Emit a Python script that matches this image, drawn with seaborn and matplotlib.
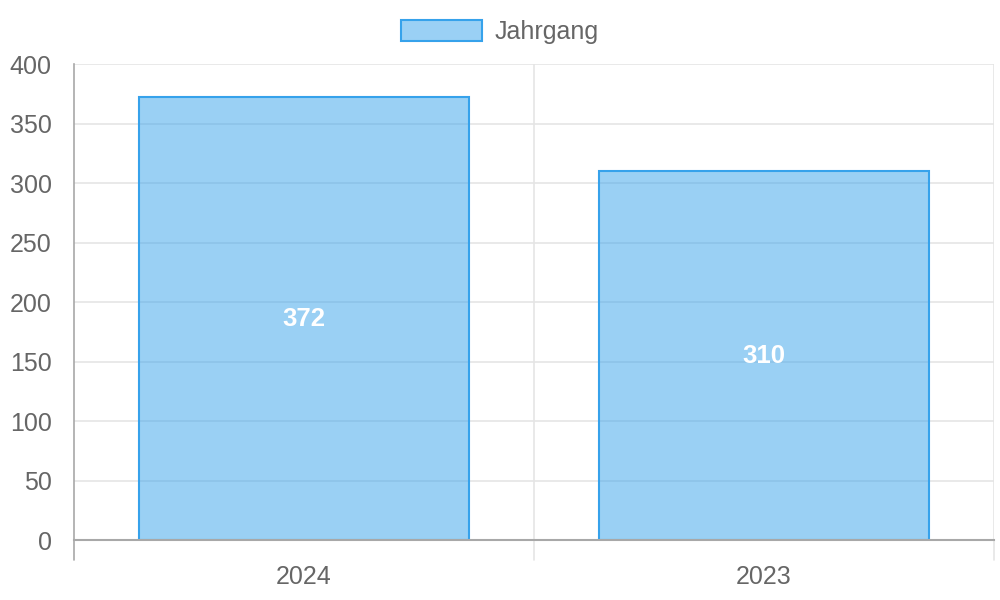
import matplotlib
matplotlib.use("Agg")
import matplotlib.pyplot as plt
import seaborn as sns
import pandas as pd
from matplotlib.patches import Patch

categories = ["2024", "2023"]
values = [372, 310]
series_name = "Jahrgang"
y_ticks = [0, 50, 100, 150, 200, 250, 300, 350, 400]

sns.set_theme(style="white")
plt.rcParams["font.family"] = ["Liberation Sans", "DejaVu Sans"]

df = pd.DataFrame({"cat": categories, "val": values})

fig = plt.figure(figsize=(10, 6), dpi=100)
ax = fig.add_axes([0.074, 0.1, 0.92, 0.79333])

grid_c = "#e5e5e5"
axis_c = "#a8a8a8"
text_c = "#666666"
fs = 18

sns.barplot(data=df, x="cat", y="val", ax=ax, width=0.716, saturation=1,
            color="#36a2eb", alpha=0.5, edgecolor="none", zorder=2)
for p in list(ax.patches):
    x, y = p.get_x(), p.get_y()
    w, h = p.get_width(), p.get_height()
    ax.add_patch(plt.Rectangle((x, y), w, h, fill=False, edgecolor="#36a2eb",
                               linewidth=1.5, zorder=3))

ax.set_xlim(-0.5, 1.5)
ax.set_ylim(0, 400)
ax.set_yticks(y_ticks)
ax.set_yticklabels([str(t) for t in y_ticks])
ax.set_xlabel("")
ax.set_ylabel("")

for t in y_ticks:
    ax.axhline(t, color=grid_c, linewidth=1.2, zorder=0)
for xv in [0.5, 1.5]:
    ax.axvline(xv, color=grid_c, linewidth=1.2, zorder=0)
    ax.plot([xv, xv], [0, -17], color=grid_c, linewidth=1.2, clip_on=False, zorder=0)

ax.tick_params(axis="x", which="major", length=0, labelsize=fs, labelcolor=text_c, pad=18)
ax.tick_params(axis="y", which="major", length=15, width=1.2, color=grid_c,
               labelsize=fs, labelcolor=text_c, pad=1)

for s in ["top", "right"]:
    ax.spines[s].set_visible(False)
ax.spines["left"].set_color(axis_c)
ax.spines["left"].set_linewidth(1.2)
ax.spines["bottom"].set_color(axis_c)
ax.spines["bottom"].set_linewidth(1.5)
ax.spines["bottom"].set_zorder(4)

ax.plot([-0.5, -0.5], [0, -17], color=axis_c, linewidth=1.2, clip_on=False, zorder=4)

for i, v in enumerate(values):
    ax.text(i, v / 2, str(v), ha="center", va="center", color="white",
            fontsize=18.5, fontweight="bold", zorder=5)

handle = Patch(facecolor="#9ad0f5", edgecolor="#36a2eb", linewidth=1.5)
fig.legend([handle], [series_name], loc="center", bbox_to_anchor=(0.5, 0.947),
           frameon=False, fontsize=fs, labelcolor=text_c,
           handlelength=3.24, handleheight=0.96, handletextpad=0.48)

fig.savefig("out.png", dpi=100)
